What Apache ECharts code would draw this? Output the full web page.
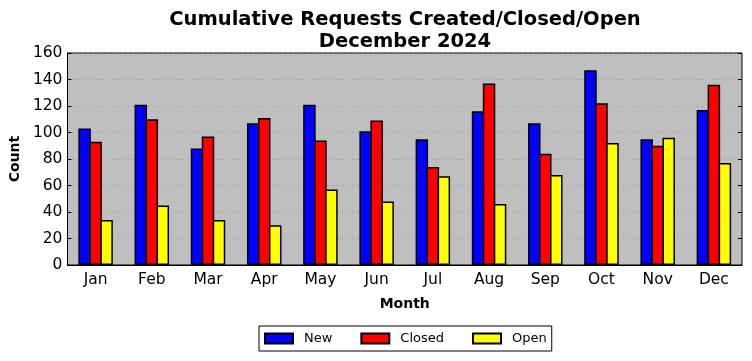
<!DOCTYPE html>
<html><head><meta charset="utf-8">
<script src="https://cdn.jsdelivr.net/npm/echarts@6/dist/echarts.min.js"></script>
<style>html,body{margin:0;padding:0;background:#fff}#c{width:752px;height:361px}</style>
</head><body><div id="c"></div>
<script>
const months = ['Jan','Feb','Mar','Apr','May','Jun','Jul','Aug','Sep','Oct','Nov','Dec'];
const newVals = [103,121,88,107,121,101,95,116,107,147,95,117];
const closedVals = [93,110,97,111,94,109,74,137,84,122,90,136];
const openVals = [34,45,34,30,57,48,67,46,68,92,96,77];
const yTicks = [0,20,40,60,80,100,120,140,160];

const font = 'DejaVu Sans';
const chart = echarts.init(document.getElementById('c'), null, {renderer:'canvas'});
const barStyle = c => ({color:c, borderColor:'#000', borderWidth:1.5});
chart.setOption({
  animation:false,
  backgroundColor:'#fff',
  textStyle:{fontFamily:font},
  title:{text:'Cumulative Requests Created/Closed/Open\nDecember 2024', left:400, textAlign:'center', top:4,
    textStyle:{fontFamily:font, fontSize:19.5, fontWeight:'bold', color:'#000', lineHeight:22}},
  legend:{bottom:10, left:259, icon:'rect', itemWidth:28, itemHeight:10, itemGap:28, borderColor:'#000', borderWidth:1,
    padding:[6,5,6,5], borderRadius:0,
    textStyle:{fontFamily:font, fontSize:13, color:'#000', padding:[0,0,0,6]},
    data:['New','Closed','Open']},
  grid:{left:66, right:10, top:53, bottom:96, show:true, backgroundColor:'#bfbfbf', borderColor:'#000', borderWidth:1},
  xAxis:[{type:'category', data:months, name:'Month', nameLocation:'middle', nameGap:32,
    nameTextStyle:{fontFamily:font, fontSize:14, fontWeight:'bold', color:'#000'},
    axisLine:{lineStyle:{color:'#000'}}, axisTick:{inside:true, alignWithLabel:true, length:4, lineStyle:{color:'#000'}},
    axisLabel:{fontFamily:font, fontSize:15.5, color:'#000', margin:7}},
   {type:'category', data:months, position:'top', axisLine:{show:false}, axisTick:{inside:true, alignWithLabel:true, length:4, lineStyle:{color:'#000'}}, axisLabel:{show:false}}],
  yAxis:[{type:'value', min:0, max:160, interval:20, name:'Count', nameLocation:'middle', nameGap:43, nameRotate:90,
    nameTextStyle:{fontFamily:font, fontSize:14, fontWeight:'bold', color:'#000'},
    axisLine:{show:true, lineStyle:{color:'#000'}}, axisTick:{show:true, inside:true, length:4, lineStyle:{color:'#000'}},
    axisLabel:{fontFamily:font, fontSize:15.5, color:'#000', margin:5},
    splitLine:{show:true, lineStyle:{color:'#8c8c8c', type:[1,4], width:1}}},
   {type:'value', min:0, max:160, interval:20, position:'right', axisLine:{show:false}, axisTick:{show:true, inside:true, length:4, lineStyle:{color:'#000'}}, axisLabel:{show:false}, splitLine:{show:false}}],
  series:[
    {name:'New', type:'bar', data:newVals, barWidth:12.5, barGap:'-12%', itemStyle:barStyle('#0000ff')},
    {name:'Closed', type:'bar', data:closedVals, barWidth:12.5, barGap:'-12%', itemStyle:barStyle('#ff0000')},
    {name:'Open', type:'bar', data:openVals, barWidth:12.5, barGap:'-12%', itemStyle:barStyle('#ffff00')}
  ]
});
</script></body></html>
